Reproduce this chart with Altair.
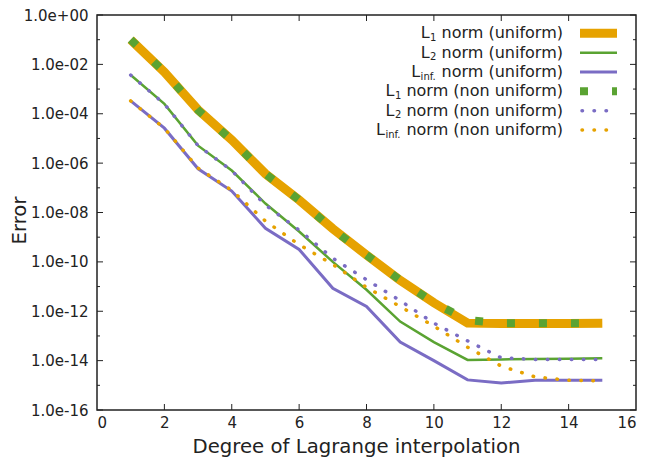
import altair as alt
import pandas as pd

# ---------------- data ----------------
degree = list(range(1, 16))

l1_uniform = [1.0e-1, 4.9e-3, 1.45e-4, 8.7e-6, 3.7e-7, 3.2e-8, 2.2e-9, 1.9e-10,
              1.8e-11, 2.2e-12, 3.3e-13, 3.2e-13, 3.2e-13, 3.2e-13, 3.3e-13]
l2_uniform = [3.7e-3, 2.5e-4, 5.1e-6, 5.0e-7, 2.3e-8, 1.7e-9, 1.0e-10, 7.4e-12,
              3.8e-13, 5.6e-14, 1.07e-14, 1.12e-14, 1.17e-14, 1.2e-14, 1.26e-14]
linf_uniform = [3.3e-4, 2.6e-5, 5.9e-7, 7.4e-8, 2.3e-9, 3.2e-10, 8.5e-12, 1.55e-12,
                5.6e-14, 1.0e-14, 1.66e-15, 1.23e-15, 1.6e-15, 1.6e-15, 1.6e-15]
l1_nonuniform = [1.0e-1, 4.9e-3, 1.4e-4, 8.5e-6, 3.7e-7, 3.2e-8, 2.1e-9, 1.9e-10,
                 1.8e-11, 2.2e-12, 4.4e-13, 3.3e-13, 3.3e-13, 3.3e-13, 3.3e-13]
l2_nonuniform = [3.7e-3, 2.5e-4, 5.1e-6, 5.0e-7, 2.0e-8, 1.95e-9, 1.4e-10, 1.9e-11,
                 2.7e-12, 3.3e-13, 6.3e-14, 1.3e-14, 1.12e-14, 1.12e-14, 1.12e-14]
linf_nonuniform = [3.3e-4, 2.6e-5, 6.3e-7, 7.9e-8, 4.5e-9, 5.0e-10, 7.9e-11, 9.3e-12,
                   1.55e-12, 2.5e-13, 3.5e-14, 6.0e-15, 2.2e-15, 1.6e-15, 1.5e-15]

series_keys = ["l1u", "l2u", "linfu", "l1n", "l2n", "linfn"]
series_values = [l1_uniform, l2_uniform, linf_uniform,
                 l1_nonuniform, l2_nonuniform, linf_nonuniform]
legend_subs = ["1", "2", "inf.", "1", "2", "inf."]
legend_mains = ["norm (uniform)", "norm (uniform)", "norm (uniform)",
                "norm (non uniform)", "norm (non uniform)", "norm (non uniform)"]

x_tick_values = [0, 2, 4, 6, 8, 10, 12, 14, 16]
y_major_ticks = [1e-16, 1e-14, 1e-12, 1e-10, 1e-8, 1e-6, 1e-4, 1e-2, 1e0]
y_minor_ticks = [1e-15, 1e-13, 1e-11, 1e-9, 1e-7, 1e-5, 1e-3, 1e-1]

# ---------------- styles ----------------
ORANGE = "#E6A200"
GREEN = "#5AA332"
PURPLE = "#7A6CC4"
INK = "#222222"
FONT = "DejaVu Sans"

styles = {
    "l1u": dict(color=ORANGE, strokeWidth=9),
    "l2u": dict(color=GREEN, strokeWidth=2.5),
    "linfu": dict(color=PURPLE, strokeWidth=3),
    "l1n": dict(color=GREEN, strokeWidth=8, strokeDash=[8, 24]),
    "l2n": dict(color=PURPLE, strokeWidth=3.5, strokeDash=[0.5, 11.5], strokeCap="round"),
    "linfn": dict(color=ORANGE, strokeWidth=3.5, strokeDash=[0.5, 11.5], strokeCap="round"),
}

W, H = 539, 395

rows = []
for key, vals in zip(series_keys, series_values):
    for d, v in zip(degree, vals):
        rows.append({"series": key, "degree": d, "err": v})
df = pd.DataFrame(rows)

xscale = alt.Scale(domain=[0, 16], nice=False, zero=False)
yscale = alt.Scale(type="log", domain=[1e-16, 1], nice=False)

xaxis = alt.Axis(values=x_tick_values, title="Degree of Lagrange interpolation",
                 grid=False, domain=False, ticks=False, tickSize=0,
                 labelFont=FONT, labelFontSize=15, labelColor=INK, labelPadding=5,
                 titleFont=FONT, titleFontSize=19.7, titleFontWeight="normal",
                 titleColor=INK, titleX=259, titleY=42, titleBaseline="alphabetic",
                 titleAlign="center")
lbl = "round(log(datum.value)/LN10)"
yaxis = alt.Axis(values=y_major_ticks, title="Error",
                 grid=False, domain=False, ticks=False, tickSize=0,
                 labelFont=FONT, labelFontSize=15, labelColor=INK, labelPadding=9,
                 labelExpr=("'1.0e' + (" + lbl + " >= 0 ? '+' : '-') + (abs(" + lbl +
                            ") < 10 ? '0' : '') + abs(" + lbl + ")"),
                 titleFont=FONT, titleFontSize=19.7, titleFontWeight="normal",
                 titleColor=INK, titleX=-72, titleY=205, titleBaseline="alphabetic",
                 titleAlign="center")


def X(f):
    return alt.X(f, type="quantitative", scale=xscale, axis=xaxis)


def Y(f):
    return alt.Y(f, type="quantitative", scale=yscale, axis=yaxis)


layers = []

# data lines
for key in series_keys:
    st = styles[key]
    layers.append(
        alt.Chart(df).transform_filter(alt.datum.series == key)
        .mark_line(clip=True, **st)
        .encode(x=X("degree"), y=Y("err"))
    )

# inward ticks (gnuplot style)
ymaj = pd.DataFrame({"v": y_major_ticks})
ymin = pd.DataFrame({"v": y_minor_ticks})
xt = pd.DataFrame({"v": x_tick_values[1:-1]})
for tdf, ln in [(ymaj, 6), (ymin, 3)]:
    layers.append(alt.Chart(tdf).mark_rule(color=INK, strokeWidth=1)
                  .encode(y=Y("v"), x=alt.value(0), x2=alt.value(ln)))
    layers.append(alt.Chart(tdf).mark_rule(color=INK, strokeWidth=1)
                  .encode(y=Y("v"), x=alt.value(W), x2=alt.value(W - ln)))
layers.append(alt.Chart(xt).mark_rule(color=INK, strokeWidth=1)
              .encode(x=X("v"), y=alt.value(H), y2=alt.value(H - 6)))
layers.append(alt.Chart(xt).mark_rule(color=INK, strokeWidth=1)
              .encode(x=X("v"), y=alt.value(0), y2=alt.value(6)))

# legend (gnuplot style, inside top right)
DV = {'n': .634, 'o': .612, 'r': .411, 'm': .974, ' ': .318, '(': .390, ')': .390,
      'u': .634, 'i': .278, 'f': .352, '.': .318, '1': .636, '2': .636, 'L': .557, 't': .392}


def tw(s, size):
    return sum(DV.get(c, .6) for c in s) * size


one = pd.DataFrame({"a": [0]})
LEG_FS = 16
SUB_FS = 10
text_right = 466
for i, key in enumerate(series_keys):
    yrow = 18.3 + 19.35 * i
    main = legend_mains[i]
    sub = legend_subs[i]
    l_right = text_right - tw(main, LEG_FS) - tw(" ", LEG_FS) - tw(sub, SUB_FS)
    layers.append(alt.Chart(one).mark_text(align="right", baseline="middle", font=FONT,
                                           fontSize=LEG_FS, color=INK)
                  .encode(x=alt.value(text_right), y=alt.value(yrow), text=alt.value(main)))
    layers.append(alt.Chart(one).mark_text(align="left", baseline="middle", font=FONT,
                                           fontSize=SUB_FS, color=INK)
                  .encode(x=alt.value(l_right + 0.5), y=alt.value(yrow + 4.5), text=alt.value(sub)))
    layers.append(alt.Chart(one).mark_text(align="right", baseline="middle", font=FONT,
                                           fontSize=LEG_FS, color=INK)
                  .encode(x=alt.value(l_right), y=alt.value(yrow), text=alt.value("L")))
    st = dict(styles[key])
    x0, x1 = 483, 520
    if "strokeCap" in st:
        x0, x1 = 485, 516
    layers.append(alt.Chart(one).mark_rule(**st)
                  .encode(x=alt.value(x0), x2=alt.value(x1), y=alt.value(yrow)))

chart = alt.layer(*layers).properties(
    width=W, height=H,
    autosize=alt.AutoSizeParams(type="none"),
    padding={"left": 97, "top": 15, "right": 14, "bottom": 50},
    background="white",
).configure_view(stroke=INK, strokeWidth=1.5)

chart.save("out.html", embed_options={"renderer": "svg", "actions": False})
